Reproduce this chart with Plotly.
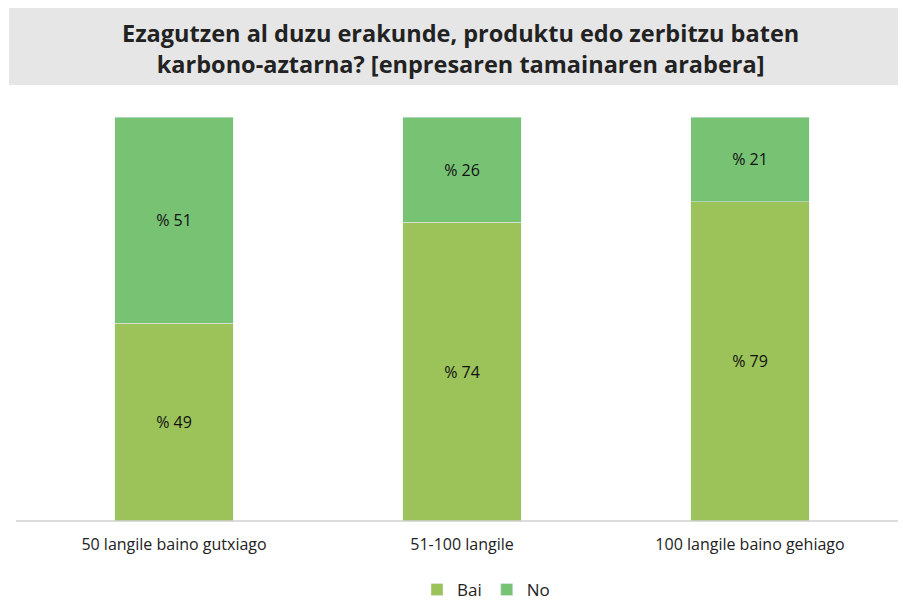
import plotly.graph_objects as go

categories = ["50 langile baino gutxiago", "51-100 langile", "100 langile baino gehiago"]
bai = [49, 74, 79]
no = [51, 26, 21]

W, H = 903, 601
left, right, top, bottom = 30, 9, 117, 80

lbl_font = dict(family="Open Sans", size=16, color="#111111")

fig = go.Figure()
fig.add_trace(go.Bar(x=categories, y=bai, name="Bai", marker_color="#9bc359",
                     text=["% " + str(v) for v in bai], textposition="inside",
                     insidetextanchor="middle", textangle=0, textfont=lbl_font))
fig.add_trace(go.Bar(x=categories, y=no, name="No", marker_color="#78c274",
                     text=["% " + str(v) for v in no], textposition="inside",
                     insidetextanchor="middle", textangle=0, textfont=lbl_font))

pw = W - left - right
ph = H - top - bottom

fig.update_layout(
    barmode="stack",
    bargap=0.59,
    width=W, height=H,
    margin=dict(l=left, r=right, t=top, b=bottom, autoexpand=False),
    plot_bgcolor="white", paper_bgcolor="white",
    showlegend=True,
    legend=dict(orientation="h", x=(486 - left) / pw, xanchor="center",
                yref="container", y=1 - 590 / H, yanchor="middle",
                font=dict(family="Open Sans", size=17, color="#222222"), traceorder="normal",
                itemwidth=30),
    xaxis=dict(showline=False, tickfont=dict(family="Open Sans", size=16, color="#222222"),
               ticks="", ticklabelstandoff=12, automargin=False),
    yaxis=dict(range=[0, 100], visible=False, automargin=False),
    uniformtext=dict(minsize=10, mode="show"),
)

# grey title box
fig.add_shape(type="rect", xref="paper", yref="paper",
              x0=(9 - left) / pw, x1=(898 - left) / pw,
              y0=(H - bottom - 85) / ph, y1=(H - bottom - 8) / ph,
              fillcolor="#e6e6e7", line_width=0, layer="below")
fig.add_annotation(xref="paper", yref="paper", x=(460 - left) / pw, y=(H - bottom - 48) / ph,
                   text="<b>Ezagutzen al duzu erakunde, produktu edo zerbitzu baten<br>karbono-aztarna? [enpresaren tamainaren arabera]</b>",
                   showarrow=False, font=dict(family="Open Sans", size=23.5, color="#222222"),
                   align="center", yanchor="middle")
# baseline
fig.add_shape(type="line", xref="paper", yref="paper",
              x0=(16 - left) / pw, x1=(898 - left) / pw, y0=0, y1=0,
              line=dict(color="#d0d0d0", width=1.5))

fig.write_html("out.html", config={"displayModeBar": False},
               post_script="document.body.style.margin='0';document.body.style.overflow='hidden';")
